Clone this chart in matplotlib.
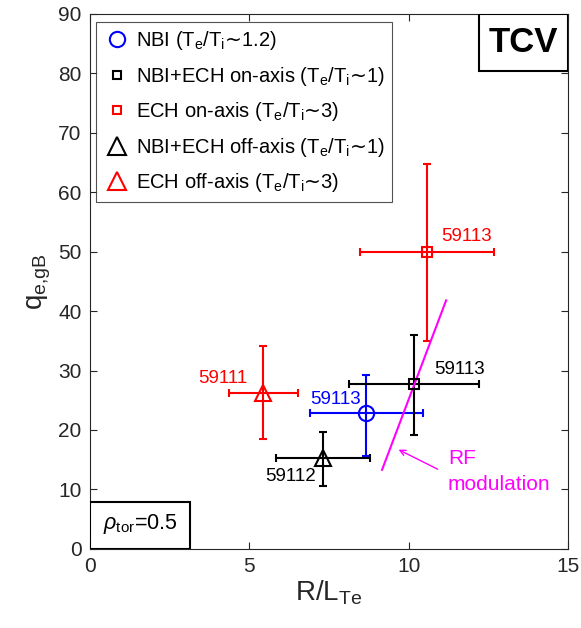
import matplotlib
matplotlib.use('Agg')
import matplotlib.pyplot as plt
from matplotlib.lines import Line2D
from matplotlib.patches import Rectangle

plt.rcParams['font.family'] = ['Liberation Sans', 'DejaVu Sans']
plt.rcParams['mathtext.fontset'] = 'custom'
plt.rcParams['mathtext.rm'] = 'Liberation Sans'
plt.rcParams['mathtext.it'] = 'Liberation Sans:italic'
plt.rcParams['mathtext.sf'] = 'DejaVu Sans'

# data: x = R/L_Te, y = q_e,gB
shots = ['59113', '59113', '59113', '59112', '59111']
x_val = [8.66, 10.17, 10.57, 7.31, 5.43]
x_lo = [6.9, 8.13, 8.47, 5.84, 4.36]
x_hi = [10.45, 12.2, 12.68, 8.79, 6.53]
y_val = [22.8, 27.8, 49.9, 15.3, 26.3]
y_lo = [15.7, 19.2, 34.9, 10.5, 18.4]
y_hi = [29.3, 35.9, 64.7, 19.7, 34.2]
ratio = 'T$_\\mathrm{e}$/T$_\\mathrm{i}$$\\mathsf{\u223c}$'
labels = ['NBI (' + ratio + '1.2)',
          'NBI+ECH on-axis (' + ratio + '1)',
          'ECH on-axis (' + ratio + '3)',
          'NBI+ECH off-axis (' + ratio + '1)',
          'ECH off-axis (' + ratio + '3)']
colors = ['blue', 'black', 'red', 'black', 'red']
markers = ['o', 's', 's', '^', '^']
msizes = [11, 6.5, 6.5, 12, 12]
leg_sizes = [11, 5.5, 5.5, 13, 13]
# shot label positions
lab_x = [6.9, 10.8, 11.0, 5.49, 4.93]
lab_y = [25.1, 30.2, 52.6, 12.1, 28.6]
lab_ha = ['left', 'left', 'left', 'left', 'right']

# RF modulation line
rf_x = [9.16, 11.17]
rf_y = [13.3, 41.8]

gray = '#262626'
fig = plt.figure(figsize=(5.81, 6.28), dpi=100)
ax = fig.add_axes([0.155, 0.126, 0.823, 0.852])

for i in range(len(x_val)):
    ax.errorbar(x_val[i], y_val[i],
                xerr=[[x_val[i] - x_lo[i]], [x_hi[i] - x_val[i]]],
                yerr=[[y_val[i] - y_lo[i]], [y_hi[i] - y_val[i]]],
                color=colors[i], marker=markers[i], ms=msizes[i], mfc='none',
                mew=1.5, lw=1.5, capsize=3, capthick=1.5, ls='none')
    ax.text(lab_x[i], lab_y[i], shots[i], color=colors[i], fontsize=13.5,
            ha=lab_ha[i], va='center')

ax.plot(rf_x, rf_y, color='magenta', lw=1.5)
ax.annotate('', xy=(9.6, 16.9), xytext=(10.98, 13.2),
            arrowprops=dict(arrowstyle='->', color='magenta', lw=1))
ax.text(11.23, 15.2, 'RF', color='magenta', fontsize=15, ha='left', va='center')
ax.text(11.23, 10.8, 'modulation', color='magenta', fontsize=15, ha='left', va='center')

handles = [Line2D([], [], color=colors[i], marker=markers[i], ms=leg_sizes[i],
                  mfc='none', mew=1.5, ls='none') for i in range(5)]
leg = ax.legend(handles, labels, loc='upper left', fontsize=14.5, frameon=True,
                fancybox=False, edgecolor=gray, handletextpad=0.3,
                borderaxespad=0, labelspacing=0.62, handlelength=1.3,
                borderpad=0.38, bbox_to_anchor=(0.013, 0.985))
leg.get_frame().set_linewidth(0.8)

# TCV box in the top right corner
ax.add_patch(Rectangle((0.814, 0.893), 0.186, 0.107, transform=ax.transAxes,
                       fc='white', ec='black', lw=1.5, zorder=5))
ax.text(0.907, 0.946, 'TCV', transform=ax.transAxes, fontsize=25, fontweight='bold',
        ha='center', va='center', zorder=6)
# rho box in the bottom left corner
ax.add_patch(Rectangle((0.0, 0.0), 0.209, 0.088, transform=ax.transAxes,
                       fc='white', ec='black', lw=1.5, zorder=5))
ax.text(0.104, 0.046, r'$\rho_\mathrm{tor}$=0.5', transform=ax.transAxes, fontsize=15.5,
        ha='center', va='center', zorder=6)

ax.set_xlim(0, 15)
ax.set_ylim(0, 90)
ax.set_xticks([0, 5, 10, 15])
ax.set_yticks(range(0, 91, 10))
for s in ax.spines.values():
    s.set_color(gray)
    s.set_linewidth(0.8)
ax.tick_params(direction='in', labelsize=15, top=True, right=True, length=5,
               colors=gray, labelcolor=gray, pad=6)
ax.set_xlabel(r'R/L$_\mathrm{Te}$', fontsize=20, color=gray, labelpad=2)
ax.set_ylabel(r'q$_\mathrm{e{,}gB}$', fontsize=20, color=gray, labelpad=4)

fig.savefig('out.png', dpi=100)
